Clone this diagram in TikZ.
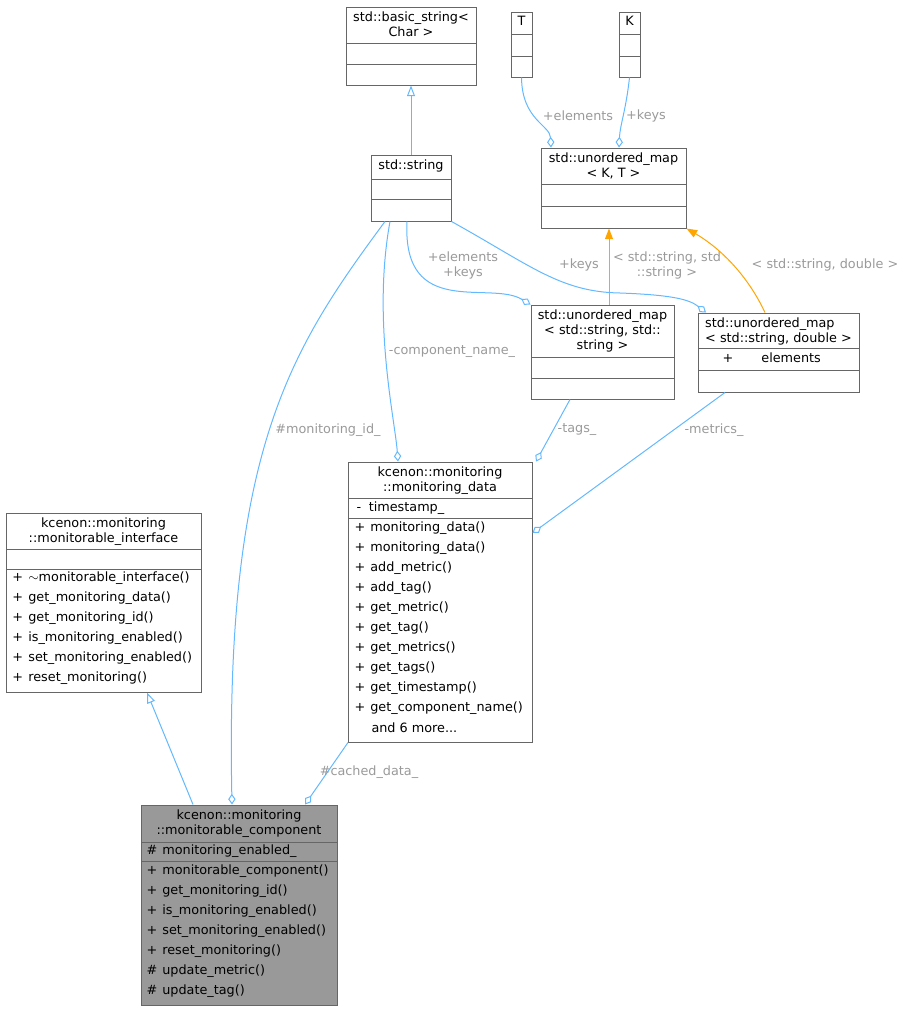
\documentclass[tikz,border=0pt]{standalone}
\usepackage{fontspec}
\setmainfont{DejaVu Sans}
\usetikzlibrary{arrows.meta,fit,calc}
\definecolor{edgeblue}{HTML}{63B8FF}
\definecolor{edgeorange}{HTML}{FFA500}
\definecolor{lblgray}{HTML}{9A9A9A}
\definecolor{boxgray}{HTML}{666666}
\definecolor{selfill}{HTML}{999999}

\begin{document}
\begin{tikzpicture}[
        x = 0.75pt, y = -0.75pt, % pixel grid
        line width = 0.75pt,
        font = \fontsize{9.6}{11.2}\selectfont,
        box/.style = {draw = boxgray, inner sep = 0pt, fill = white},
        txt/.style = {inner sep = 0pt, anchor = west},
        ttl/.style = {inner sep = 0pt, align = center, anchor = north},
        lbl/.style = {inner sep = 0pt, text = lblgray, align = center},
        agg/.style = {draw = edgeblue, -{Diamond[open, length = 8pt, width = 5.5pt]}},
        inh/.style = {draw = edgeblue, -{Triangle[open, length = 8pt, width = 6pt]}},
        tpl/.style = {draw = edgeorange, -{Triangle[length = 8pt, width = 6pt]}}
    ]
    \useasboundingbox (0,0) rectangle (906,1011);

% boxes
    \node[box, fit = {(346,7) (476,85)}] (BSTR) {};
    \node[box, fit = {(511,12) (532,77)}] (TT) {};
    \node[box, fit = {(619,12) (640,77)}] (KK) {};
    \node[box, fit = {(371,155) (451,221)}] (STR) {};
    \node[box, fit = {(541,148) (686,228)}] (MKT) {};
    \node[box, fit = {(531,305) (674,399)}] (MSS) {};
    \node[box, fit = {(698,313) (859,392)}] (MSD) {};
    \node[box, fit = {(348,462) (532,742)}] (DATA) {};
    \node[box, fit = {(6,513) (201,692)}] (IFACE) {};
    \node[box, fill = selfill, fit = {(141,805) (337,1005)}] (COMP) {};

% compartments
    \begin{scope}[draw = boxgray]
    \draw (346,43) -- (476,43); \draw (346,64) -- (476,64);
    \draw (511,34) -- (532,34); \draw (511,56) -- (532,56);
    \draw (619,34) -- (640,34); \draw (619,56) -- (640,56);
    \draw (371,179) -- (451,179); \draw (371,199) -- (451,199);
    \draw (541,184) -- (686,184); \draw (541,206) -- (686,206);
    \draw (531,357) -- (674,357); \draw (531,378) -- (674,378);
    \draw (698,348) -- (859,348); \draw (698,370) -- (859,370);
    \draw (348,498) -- (532,498); \draw (348,518) -- (532,518);
    \draw (6,549) -- (201,549); \draw (6,569) -- (201,569);
    \draw (141,842) -- (337,842); \draw (141,861) -- (337,861);
    \end{scope}

% titles
    \node[ttl] (BSTRt) at (411,11) {std::basic\_string<\\Char >};
    \node[ttl] (TTt) at (521.5,16) {T};
    \node[ttl] (KKt) at (629.5,16) {K};
    \node[ttl] (STRt) at (411,159) {std::string};
    \node[ttl] (MKTt) at (613.5,152) {std::unordered\_map\\< K, T >};
    \node[ttl] (MSSt) at (602.5,309) {std::unordered\_map\\< std::string, std::\\string >};
    \node[ttl, align = left] (MSDt) at (778.5,317) {std::unordered\_map\\< std::string, double >};
    \node[ttl] (DATAt) at (440,466) {kcenon::monitoring\\::monitoring\_data};
    \node[ttl] (IFACEt) at (103.5,517) {kcenon::monitoring\\::monitorable\_interface};
    \node[ttl] (COMPt) at (239,809) {kcenon::monitoring\\::monitorable\_component};

% members
    \node[txt] (MSD1) at (722,358) {+\hspace{2.2em}elements};
    \node[txt] (DATA1) at (356,508) {-\hspace{0.6em}timestamp\_};
    \foreach \m [count = \i from 0] in {monitoring\_data(), monitoring\_data(), add\_metric(), add\_tag(), get\_metric(), get\_tag(), get\_metrics(), get\_tags(), get\_timestamp(), get\_component\_name()}
        \node[txt] (DATAm\i) at (354,528+20*\i) {+\hspace{0.4em}\m};
    \node[txt] (DATAmore) at (371,728) {and 6 more...};
    \foreach \m [count = \i from 0] in {$\sim$monitorable\_interface(), get\_monitoring\_data(), get\_monitoring\_id(), is\_monitoring\_enabled(), set\_monitoring\_enabled(), reset\_monitoring()}
        \node[txt] (IFACEm\i) at (12,578+20*\i) {+\hspace{0.4em}\m};
    \node[txt] (COMP1) at (146,851) {\#\hspace{0.4em}monitoring\_enabled\_};
    \foreach \s/\m [count = \i from 0] in {+/monitorable\_component(), +/get\_monitoring\_id(), +/is\_monitoring\_enabled(), +/set\_monitoring\_enabled(), +/reset\_monitoring(), \#/update\_metric(), \#/update\_tag()}
        \node[txt] (COMPm\i) at (146,871+20*\i) {\s\hspace{0.4em}\m};

% connectors
    \draw[inh] (STR.north) -- (BSTR.south);
    \draw[inh] (COMP.north -| 193,0) -- (IFACE.south -| 147,0);
    \draw[agg] (TT.south) .. controls (522,120) and (550,125) .. (MKT.north -| 551,0);
    \draw[agg] (KK.south) .. controls (626,110) and (620,125) .. (MKT.north -| 619,0);
    \draw[tpl] (MSS.north -| 609,0) -- (MKT.south -| 609,0);
    \draw[tpl] (MSD.north -| 765,0) .. controls (745,270) and (715,245) .. (MKT.south east);
    \draw[agg] (STR.south -| 407,0) .. controls (402,320) and (490,280) .. (MSS.north west);
    \draw[agg] (STR.south east) .. controls (530,265) and (560,292) .. (620,293) .. controls (675,295) and (690,300) .. (MSD.north -| 706,0);
    \draw[agg] (STR.south -| 390,0) .. controls (372,320) and (395,420) .. (DATA.north -| 398,0);
    \draw[agg] (STR.south -| 385,0) .. controls (290,350) and (225,450) .. (COMP.north -| 232,0);
    \draw[agg] (MSS.south -| 570,0) -- (DATA.north -| 536,0);
    \draw[agg] (MSD.south -| 725,0) -- (DATA.east |- 0,533);
    \draw[agg] (DATA.south -| 348,0) -- (COMP.north -| 305,0);

% connector labels
    \node[lbl] (L1) at (578,116) {+elements};
    \node[lbl] (L2) at (646,116) {+keys};
    \node[lbl] (L3) at (667,265) {< std::string, std\\::string >};
    \node[lbl] (L4) at (825,265) {< std::string, double >};
    \node[lbl] (L5) at (463,265) {+elements\\+keys};
    \node[lbl] (L6) at (579,265) {+keys};
    \node[lbl] (L7) at (452,352) {-component\_name\_};
    \node[lbl] (L8) at (328,430) {\#monitoring\_id\_};
    \node[lbl] (L9) at (577,430) {-tags\_};
    \node[lbl] (L10) at (714,430) {-metrics\_};
    \node[lbl] (L11) at (369,772) {\#cached\_data\_};
\end{tikzpicture}
\end{document}
